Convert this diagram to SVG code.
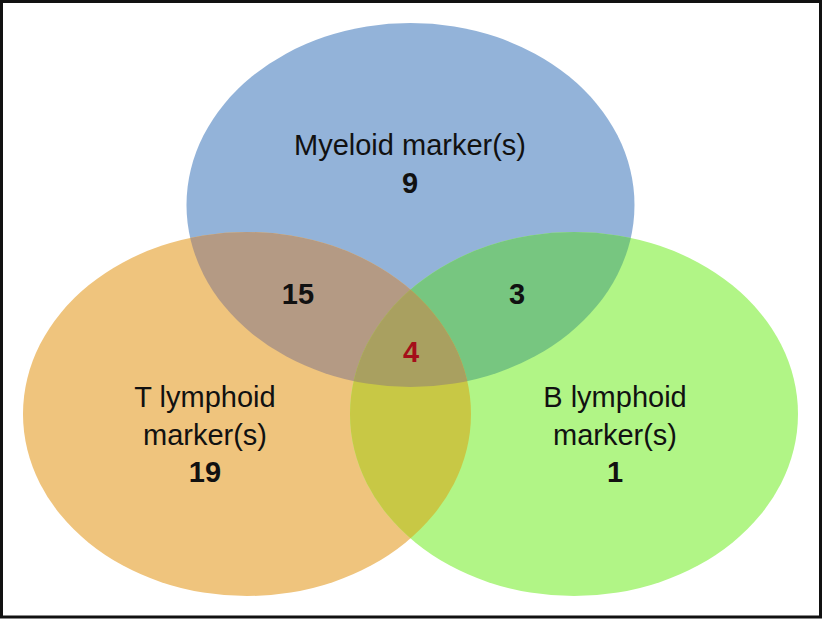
<svg xmlns="http://www.w3.org/2000/svg" width="822" height="619" viewBox="0 0 822 619">
<style>
.lbl{font-family:"Liberation Sans",Arial,sans-serif;font-size:29px;fill:#111;text-anchor:middle}
.num{font-family:"Liberation Sans",Arial,sans-serif;font-size:29px;font-weight:bold;fill:#111;text-anchor:middle}
</style>
<defs>
<clipPath id="cB"><ellipse cx="410.5" cy="205" rx="224" ry="182"/></clipPath>
<clipPath id="cO"><ellipse cx="247" cy="414" rx="224" ry="182"/></clipPath>
<clipPath id="cG"><ellipse cx="574" cy="414" rx="224" ry="182"/></clipPath>
</defs>
<rect x="0" y="0" width="822" height="619" fill="#fff"/>
<g id="myeloid"><ellipse cx="410.5" cy="205" rx="224" ry="182" fill="#93b3d9"/></g>
<g id="tlymphoid"><ellipse cx="247" cy="414" rx="224" ry="182" fill="#efc47d"/></g>
<g id="blymphoid"><ellipse cx="574" cy="414" rx="224" ry="182" fill="#b1f586"/></g>
<g id="overlaps">
<ellipse cx="410.5" cy="205" rx="224" ry="182" fill="#b49a84" clip-path="url(#cO)"/>
<ellipse cx="410.5" cy="205" rx="224" ry="182" fill="#77c680" clip-path="url(#cG)"/>
<ellipse cx="247" cy="414" rx="224" ry="182" fill="#c8c845" clip-path="url(#cG)"/>
<g clip-path="url(#cB)"><ellipse cx="247" cy="414" rx="224" ry="182" fill="#a9a060" clip-path="url(#cG)"/></g>
</g>
<g id="labels">
<text class="lbl" x="410" y="155">Myeloid marker(s)</text>
<text class="num" x="410" y="193">9</text>
<text class="num" x="298" y="304">15</text>
<text class="num" x="517" y="304">3</text>
<text class="num" x="411" y="362" style="fill:#a50f1a">4</text>
<text class="lbl" x="205" y="407">T lymphoid</text>
<text class="lbl" x="205" y="445">marker(s)</text>
<text class="num" x="205" y="482">19</text>
<text class="lbl" x="615" y="407">B lymphoid</text>
<text class="lbl" x="615" y="445">marker(s)</text>
<text class="num" x="615" y="482">1</text>
</g>
<rect x="1.5" y="1.5" width="819" height="615.5" fill="none" stroke="#111" stroke-width="3"/>
</svg>
